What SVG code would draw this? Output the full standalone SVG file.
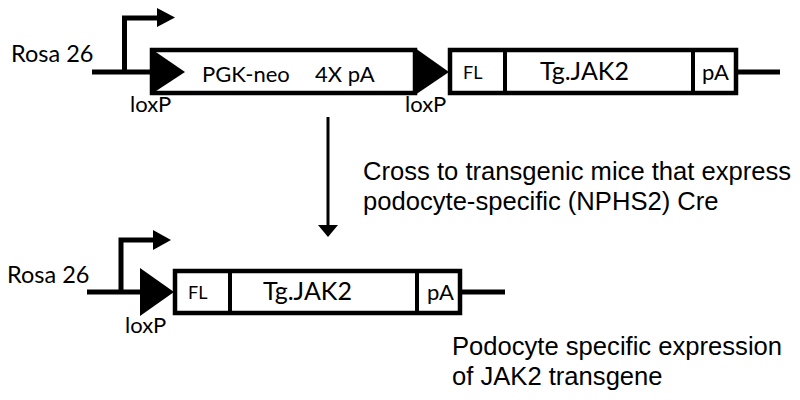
<svg xmlns="http://www.w3.org/2000/svg" width="800" height="400" viewBox="0 0 800 400">
<style>
.bx{fill:#fff;stroke:#000;stroke-width:4.5}
.dv{stroke:#000;stroke-width:4}
.ln{stroke:#000;stroke-width:5;fill:none}
.tri{fill:#000}
.lb{font-family:Lato,"Liberation Sans",sans-serif;font-size:22px;fill:#000}
.rs{font-size:23.5px}
.tg{font-size:25px}
.sm{font-family:Lato,"Liberation Sans",sans-serif;font-size:18px;fill:#000}
.ar{font-family:"Liberation Sans",Arial,sans-serif;font-size:25.6px;fill:#000}
</style>
<rect width="800" height="400" fill="#fff"/>
<g id="top-construct">
<text class="lb rs" x="11" y="62">Rosa 26</text>
<line class="ln" x1="92" y1="72" x2="152" y2="72"/>
<polyline class="ln" points="124.5,72 124.5,18 159,18"/>
<polygon class="tri" points="157,8 175,17.5 157,27"/>
<rect class="bx" x="152" y="50" width="263" height="43"/>
<polygon class="tri" points="150,48 150,95 185,72"/>
<text class="lb" x="202" y="82">PGK-neo</text>
<text class="lb" x="315" y="82">4X pA</text>
<polygon class="tri" points="415,48 415,95 449,72"/>
<rect class="bx" x="450" y="50" width="286" height="43"/>
<line class="dv" x1="505" y1="50" x2="505" y2="93"/>
<line class="dv" x1="693" y1="50" x2="693" y2="93"/>
<text class="sm" x="463" y="79">FL</text>
<text class="lb tg" x="540" y="80">Tg.JAK2</text>
<text class="lb" x="702" y="80">pA</text>
<line class="ln" x1="738" y1="72" x2="780" y2="72"/>
<text class="lb" x="130" y="112">loxP</text>
<text class="lb" x="405" y="112">loxP</text>
</g>
<g id="connectors">
<line x1="328" y1="117" x2="328" y2="226" stroke="#000" stroke-width="3"/>
<polygon class="tri" points="318,225 338,225 328,237"/>
</g>
<g id="cross-label">
<text class="ar" x="363" y="180">Cross to transgenic mice that express</text>
<text class="ar" x="363" y="210">podocyte-specific (NPHS2) Cre</text>
</g>
<g id="bottom-construct">
<text class="lb rs" x="7" y="283">Rosa 26</text>
<line class="ln" x1="87" y1="292" x2="142" y2="292"/>
<polyline class="ln" points="121,292 121,240 155,240"/>
<polygon class="tri" points="153,230 171,240 153,250"/>
<polygon class="tri" points="140,268 140,316 174,292"/>
<rect class="bx" x="175" y="271" width="285" height="42"/>
<line class="dv" x1="230" y1="271" x2="230" y2="313"/>
<line class="dv" x1="417" y1="271" x2="417" y2="313"/>
<text class="sm" x="188" y="299">FL</text>
<text class="lb tg" x="263" y="300">Tg.JAK2</text>
<text class="lb" x="427" y="300">pA</text>
<line class="ln" x1="462" y1="292" x2="505" y2="292"/>
<text class="lb" x="125" y="333">loxP</text>
</g>
<g id="result-label">
<text class="ar" x="452" y="355">Podocyte specific expression</text>
<text class="ar" x="452" y="385">of JAK2 transgene</text>
</g>
</svg>
